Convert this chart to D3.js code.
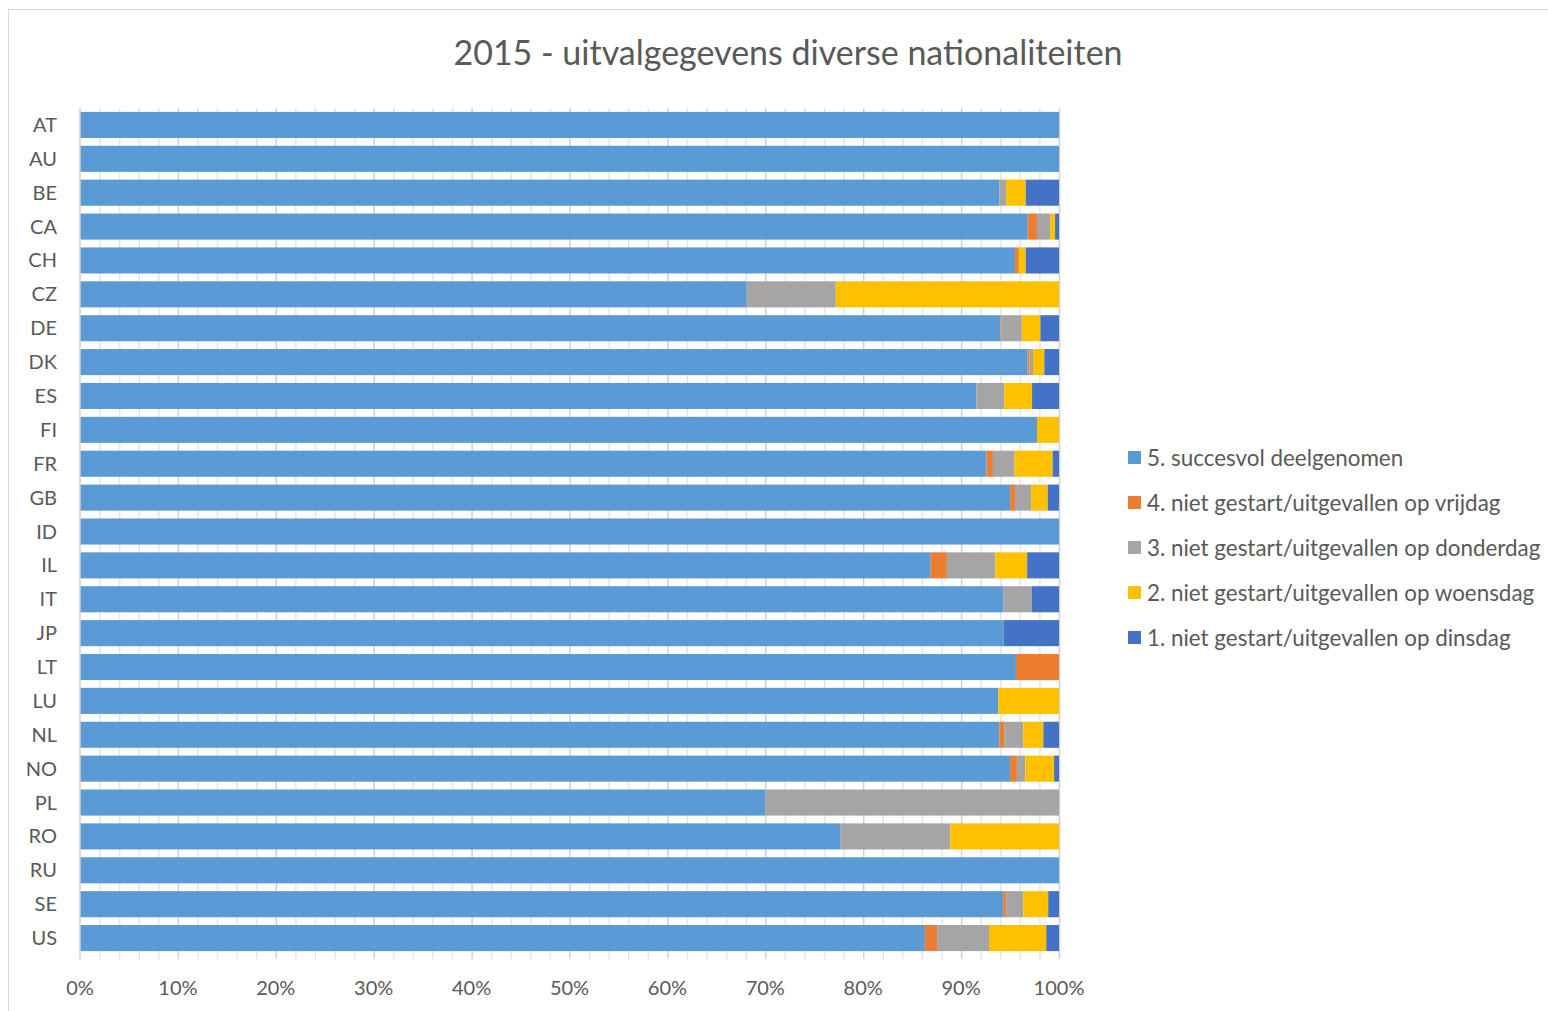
<!DOCTYPE html>
<html>
<head>
<meta charset="utf-8">
<script src="https://cdn.jsdelivr.net/npm/d3@7"></script>
<style>
  body { margin: 0; background: #fff; }
  svg text { font-family: Lato, "Open Sans", sans-serif; fill: #595959; }
</style>
</head>
<body>
<svg id="chart" width="1548" height="1011"></svg>
<script>
// categories, top to bottom
const countries = ['AT', 'AU', 'BE', 'CA', 'CH', 'CZ', 'DE', 'DK', 'ES', 'FI', 'FR', 'GB', 'ID',
  'IL', 'IT', 'JP', 'LT', 'LU', 'NL', 'NO', 'PL', 'RO', 'RU', 'SE', 'US'];

// share per country (%), one array per series
const succesvol = [100, 100, 93.9, 96.8, 95.5, 68.1, 94.0, 96.8, 91.55, 97.75, 92.6, 95.0, 100,
  86.9, 94.3, 94.35, 95.6, 93.8, 93.9, 95.0, 70.0, 77.7, 100, 94.3, 86.3];
const vrijdag = [0, 0, 0, 0.95, 0.4, 0, 0.1, 0.2, 0, 0, 0.65, 0.5, 0,
  1.65, 0, 0, 4.4, 0, 0.5, 0.7, 0, 0, 0, 0.3, 1.25];
const donderdag = [0, 0, 0.7, 1.35, 0, 9.1, 2.1, 0.35, 2.85, 0, 2.2, 1.65, 0,
  4.95, 2.9, 0, 0, 0, 1.95, 0.85, 30.0, 11.2, 0, 1.75, 5.3];
const woensdag = [0, 0, 2.0, 0.5, 0.7, 22.8, 1.9, 1.15, 2.85, 2.25, 3.9, 1.7, 0,
  3.25, 0, 0, 0, 6.2, 2.05, 2.95, 0, 11.1, 0, 2.55, 5.85];
const dinsdag = [0, 0, 3.4, 0.4, 3.4, 0, 1.9, 1.5, 2.75, 0, 0.65, 1.15, 0,
  3.25, 2.8, 5.65, 0, 0, 1.6, 0.5, 0, 0, 0, 1.1, 1.3];

const seriesNames = [
  '5. succesvol deelgenomen',
  '4. niet gestart/uitgevallen op vrijdag',
  '3. niet gestart/uitgevallen op donderdag',
  '2. niet gestart/uitgevallen op woensdag',
  '1. niet gestart/uitgevallen op dinsdag'
];
const seriesValues = [succesvol, vrijdag, donderdag, woensdag, dinsdag];
const colors = ['#5B9BD5', '#ED7D31', '#A5A5A5', '#FFC000', '#4472C4'];
const xTicks = [0, 10, 20, 30, 40, 50, 60, 70, 80, 90, 100];

const svg = d3.select('#chart');

// chart border
svg.append('rect')
  .attr('x', 8.5).attr('y', 9.5)
  .attr('width', 1560).attr('height', 1020)
  .attr('fill', 'none').attr('stroke', '#d9d9d9');

svg.append('text')
  .attr('x', 788).attr('y', 65)
  .attr('text-anchor', 'middle')
  .style('font-size', '34px')
  .text('2015 - uitvalgegevens diverse nationaliteiten');

const x = d3.scaleLinear().domain([0, 100]).range([80, 1059]);
const y = d3.scaleBand().domain(countries).range([108, 955])
  .paddingInner(0.23).paddingOuter(0.115);

// gridlines: minor every 2%, major every 10%
const grid = svg.append('g');
grid.selectAll('line.minor')
  .data(d3.range(2, 101, 2).filter(d => d % 10 !== 0))
  .join('line')
  .attr('class', 'minor')
  .attr('x1', d => x(d) + 0.5).attr('x2', d => x(d) + 0.5)
  .attr('y1', 108).attr('y2', 959)
  .attr('stroke', '#e4e4e4').attr('stroke-width', 1.5);
grid.selectAll('line.major')
  .data(xTicks.slice(1))
  .join('line')
  .attr('class', 'major')
  .attr('x1', d => x(d) + 0.5).attr('x2', d => x(d) + 0.5)
  .attr('y1', 108).attr('y2', 959)
  .attr('stroke', '#d0d0d0').attr('stroke-width', 1.5);

// stacked bars
const rows = countries.map((c, i) => {
  const row = {country: c};
  seriesNames.forEach((s, j) => { row[s] = seriesValues[j][i]; });
  return row;
});
const stacked = d3.stack().keys(seriesNames)(rows);

svg.append('g')
  .selectAll('g')
  .data(stacked)
  .join('g')
  .attr('fill', (d, i) => colors[i])
  .selectAll('rect')
  .data(d => d)
  .join('rect')
  .attr('x', d => x(d[0]))
  .attr('y', d => y(d.data.country))
  .attr('width', d => Math.max(0, x(d[1]) - x(d[0])))
  .attr('height', y.bandwidth());

// category axis line
svg.append('line')
  .attr('x1', 80).attr('x2', 80)
  .attr('y1', 108).attr('y2', 959)
  .attr('stroke', '#d0d0d0').attr('stroke-width', 1.5);

// category labels
svg.append('g')
  .selectAll('text')
  .data(countries)
  .join('text')
  .attr('x', 57)
  .attr('y', d => y(d) + y.bandwidth() / 2)
  .attr('dy', '0.35em')
  .attr('text-anchor', 'end')
  .style('font-size', '20px')
  .text(d => d);

// value labels
svg.append('g')
  .selectAll('text')
  .data(xTicks)
  .join('text')
  .attr('x', d => x(d))
  .attr('y', 995)
  .attr('text-anchor', 'middle')
  .style('font-size', '20px')
  .text(d => d + '%');

// legend
const legend = svg.append('g')
  .selectAll('g')
  .data(seriesNames)
  .join('g')
  .attr('transform', (d, i) => `translate(1128, ${458 + i * 45})`);
legend.append('rect')
  .attr('x', 0).attr('y', -7)
  .attr('width', 13).attr('height', 13)
  .attr('fill', (d, i) => colors[i]);
legend.append('text')
  .attr('x', 19).attr('y', 0)
  .attr('dy', '0.35em')
  .style('font-size', '22.4px')
  .text(d => d);
</script>
</body>
</html>
